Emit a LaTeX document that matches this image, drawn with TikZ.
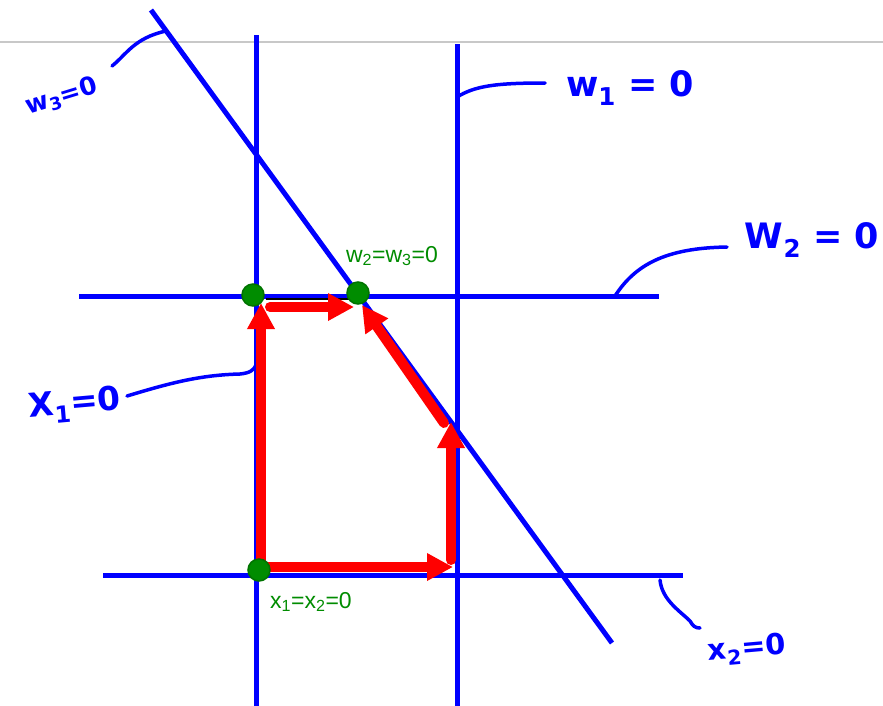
\documentclass[tikz,border=0pt]{standalone}
\usepackage{fontspec}
\setmainfont{Liberation Sans}
\newfontfamily\handfont{DejaVu Sans}
\usetikzlibrary{arrows.meta}
\definecolor{lineblue}{RGB}{0,0,255}
\definecolor{arrowred}{RGB}{255,0,0}
\definecolor{dotgreen}{RGB}{0,140,0}
\definecolor{rulegray}{RGB}{200,200,200}
\begin{document}
\begin{tikzpicture}[x=1pt,y=-1pt,
  bline/.style={draw=lineblue,line width=5pt},
  leader/.style={draw=lineblue,line width=3.5pt,line cap=round},
  hand/.style={text=lineblue,inner sep=0pt},
  redarrow/.style={draw=arrowred,line width=10pt,line cap=round,
    -{Triangle[length=26pt,width=26pt]},arrowred},
  gdot/.style={circle,fill=dotgreen,draw=green!45!black,line width=1.5pt,minimum size=22pt,inner sep=0pt},
  glabel/.style={text=dotgreen,font=\fontsize{23}{26}\selectfont,inner sep=0pt}]
\useasboundingbox (0,0) rectangle (883,705);
\fill[white] (0,0) rectangle (883,705);
% top rule
\coordinate (rl) at (0,42);
\coordinate (rr) at (883,42);
\draw[rulegray,line width=1.5pt] (rl) -- (rr);
% constraint lines
\coordinate (v1top) at (256,35);  \coordinate (v1bot) at (256,708);
\coordinate (v2top) at (457,44);  \coordinate (v2bot) at (457,708);
\coordinate (h1l) at (79,296);    \coordinate (h1r) at (659,296);
\coordinate (h2l) at (103,575);   \coordinate (h2r) at (683,575);
\coordinate (d1) at (151,10);     \coordinate (d2) at (612,643);
\draw[bline] (v1top) -- (v1bot);
\draw[bline] (v2top) -- (v2bot);
\draw[bline] (h1l) -- (h1r);
\draw[bline] (h2l) -- (h2r);
\draw[bline] (d1) -- (d2);
% handwritten labels
\node[hand,rotate=17,font=\handfont\bfseries\fontsize{25}{28}\selectfont] (w3lab) at (62,97) {w\textsubscript{3}=0};
\node[hand,font=\handfont\bfseries\fontsize{35}{40}\selectfont] (w1lab) at (630,88) {w\textsubscript{1} = 0};
\node[hand,font=\handfont\bfseries\fontsize{35}{40}\selectfont] (w2lab) at (812,240) {W\textsubscript{2} = 0};
\node[hand,rotate=5,font=\handfont\bfseries\fontsize{33}{38}\selectfont] (x1lab) at (75,405) {X\textsubscript{1}=0};
\node[hand,rotate=5,font=\handfont\bfseries\fontsize{29}{34}\selectfont] (x2lab) at (747,650) {x\textsubscript{2}=0};
% leaders
\coordinate (w3a) at (112,66);  \coordinate (w3b) at (166,31);
\draw[leader] (w3a) .. controls (126,55) and (134,38) .. (w3b);
\coordinate (w1a) at (545,83);  \coordinate (w1b) at (457,97);
\draw[leader] (w1a) .. controls (495,83) and (475,86) .. (w1b);
\coordinate (w2a) at (727,247); \coordinate (w2b) at (615,296);
\draw[leader] (w2a) .. controls (665,248) and (635,265) .. (w2b);
\coordinate (x1a) at (127,396); \coordinate (x1m) at (240,374); \coordinate (x1b) at (256,365);
\draw[leader] (x1a) .. controls (170,383) and (200,375) .. (x1m) .. controls (250,373) and (254,370) .. (x1b);
\coordinate (x2a) at (660,580); \coordinate (x2m) at (690,621); \coordinate (x2b) at (700,628);
\draw[leader] (x2a) .. controls (662,600) and (680,611) .. (x2m) .. controls (693,626) and (695,628) .. (x2b);
% thin black segment
\coordinate (ka) at (266,299); \coordinate (kb) at (350,299);
\draw[black,line width=2.5pt] (ka) -- (kb);
% red path
\coordinate (p0) at (261,567);
\coordinate (p1) at (453,567);
\coordinate (q0) at (451,560);
\coordinate (q1) at (451,422);
\coordinate (r0) at (444,423);
\coordinate (r1) at (362,305);
\coordinate (s0) at (261,562);
\coordinate (s1) at (261,303);
\coordinate (t0) at (270,307);
\coordinate (t1) at (354,307);
\draw[redarrow] (p0) -- (p1);
\draw[redarrow] (q0) -- (q1);
\draw[redarrow] (r0) -- (r1);
\draw[redarrow] (s0) -- (s1);
\draw[redarrow] (t0) -- (t1);
% green vertices
\node[gdot] (g1) at (253,295) {};
\node[gdot] (g2) at (358,293) {};
\node[gdot] (g3) at (259,570) {};
\node[glabel] (l2) at (392,256) {w\textsubscript{2}=w\textsubscript{3}=0};
\node[glabel] (l3) at (311,602) {x\textsubscript{1}=x\textsubscript{2}=0};
\end{tikzpicture}
\end{document}
